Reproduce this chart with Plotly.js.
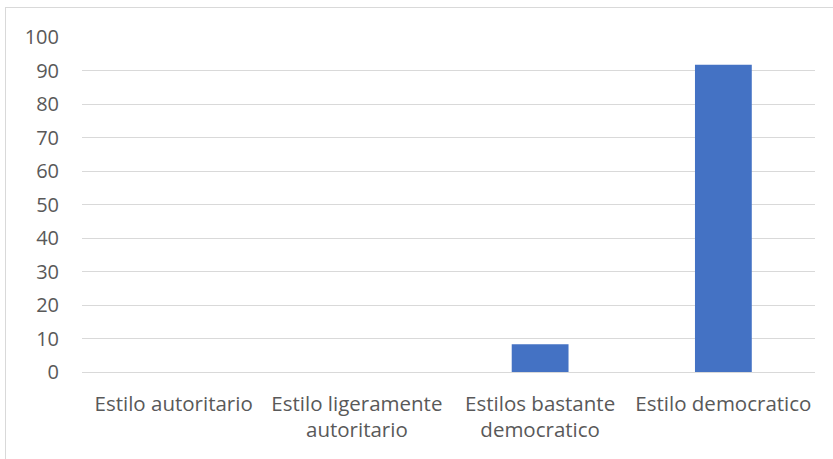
<!DOCTYPE html>
<html>
<head>
<meta charset="utf-8">
<script src="https://cdn.plot.ly/plotly-3.0.1.min.js"></script>
<style>
html,body{margin:0;padding:0;width:833px;height:459px;overflow:hidden;background:#fff;}
#frame{position:absolute;left:5px;top:7px;width:900px;height:520px;border:1px solid #d9d9d9;box-sizing:border-box;}
#chart{position:absolute;left:0;top:0;width:833px;height:459px;}
</style>
</head>
<body>
<div id="frame"></div>
<div id="chart"></div>
<script>
const categories = ["Estilo autoritario", "Estilo ligeramente<br>autoritario", "Estilos bastante<br>democratico", "Estilo democratico"];
const values = [0, 0, 8.3, 91.7];
const yTicks = [0, 10, 20, 30, 40, 50, 60, 70, 80, 90, 100];

const trace = {
  type: "bar",
  x: categories,
  y: values,
  marker: {color: "#4472c4"},
  hoverinfo: "x+y"
};

const layout = {
  width: 833, height: 459,
  paper_bgcolor: "rgba(0,0,0,0)",
  plot_bgcolor: "rgba(0,0,0,0)",
  margin: {l: 82, r: 18, t: 37, b: 87},
  bargap: 0.69,
  showlegend: false,
  font: {family: "Open Sans, sans-serif", size: 20, color: "#595959"},
  xaxis: {
    type: "category",
    showgrid: false,
    showline: false,
    ticks: "",
    tickfont: {size: 20.5, color: "#595959"},
    ticklabelstandoff: 17,
    fixedrange: true
  },
  yaxis: {
    range: [0, 100],
    tickvals: yTicks,
    ticktext: yTicks.map(String),
    showgrid: true,
    gridcolor: "#d9d9d9",
    gridwidth: 1,
    zeroline: true,
    zerolinecolor: "#d9d9d9",
    zerolinewidth: 1,
    showline: false,
    ticks: "",
    tickfont: {size: 20, color: "#595959"},
    ticklabelstandoff: 22,
    fixedrange: true
  }
};

Plotly.newPlot("chart", [trace], layout, {displayModeBar: false, staticPlot: true});
</script>
</body>
</html>
